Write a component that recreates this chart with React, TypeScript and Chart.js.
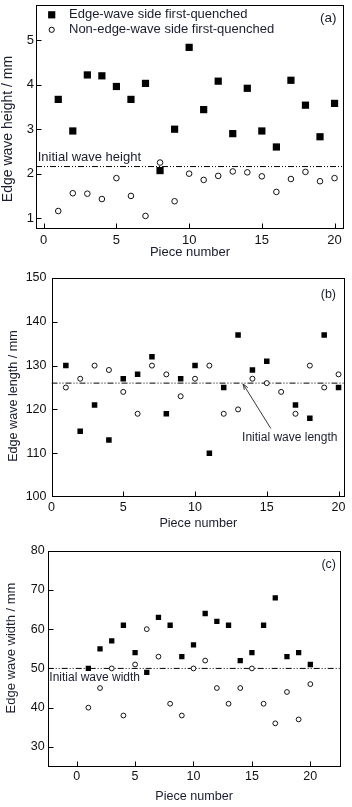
import React, { useEffect, useRef } from 'react';
import { Chart, registerables } from 'chart.js';

Chart.register(...registerables);

// ---------- data ----------
const pieceNumbers = [1, 2, 3, 4, 5, 6, 7, 8, 9, 10, 11, 12, 13, 14, 15, 16, 17, 18, 19, 20];
const pieceTicks = [0, 5, 10, 15, 20];

const heightEdgeFirst = [3.67, 2.96, 4.22, 4.2, 3.96, 3.67, 4.03, 2.07, 3.0, 4.84, 3.44, 4.08, 2.9, 3.92, 2.96, 2.6, 4.1, 3.54, 2.83, 3.58];
const heightNonEdgeFirst = [1.16, 1.56, 1.55, 1.43, 1.9, 1.5, 1.05, 2.25, 1.38, 2.0, 1.86, 1.95, 2.05, 2.03, 1.94, 1.59, 1.88, 2.04, 1.83, 1.9];
const initialHeight = 2.16;
const heightTicks = [1, 2, 3, 4, 5];

const lengthEdgeFirst: (number | null)[] = [130, 115, 121, 113, 127, 128, 132, 119, 127, 130, 110, 125, 137, 129, 131, null, 121, 118, 137, 125];
const lengthNonEdgeFirst = [125, 127, 130, 129, 124, 119, 130, 128, 123, 127, 130, 119, 120, 127, 126, 124, 119, 130, 125, 128];
const initialLength = 126;
const lengthTicks = [100, 110, 120, 130, 140, 150];

const widthEdgeFirst = [50, 55, 57, 61, 54, 49, 63, 61, 53, 56, 64, 62, 61, 52, 54, 61, 68, 53, 54, 51];
const widthNonEdgeFirst = [40, 45, 50, 38, 51, 60, 53, 41, 38, 50, 52, 45, 41, 45, 50, 41, 36, 44, 37, 46];
const initialWidth = 50;
const widthTicks = [30, 40, 50, 60, 70, 80];

const legendLabels = ['Edge-wave side first-quenched', 'Non-edge-wave side first-quenched'];
const xTitle = 'Piece number';

// ---------- styles ----------
const FONT = "'Liberation Sans', Arial, sans-serif";
const TEXT = '#1a1d30';
const TICK = '#111111';

type PanelCfg = {
  top: number;
  height: number;
  edge: (number | null)[];
  nonEdge: number[];
  initial: number;
  xMin: number;
  xMax: number;
  yMin: number;
  yMax: number;
  yTicks: number[];
  yTitle: string;
  panelLabel: string;
  initLabel: string;
  pad: { top: number; right: number };
  yAxisWidth: number;
  xAxisHeight: number;
  xTickPad: number;
  yTickPad: number;
  xTitlePadBottom: number;
  tickFont: number;
  xTitleFont: number;
  yTitleFont: number;
  yTitlePos: [number, number];
  textFont: number;
  squareR: number;
  circleR: number;
  labelOffset: [number, number];
  legend: boolean;
  initLabelMode: 'above' | 'below' | 'arrow';
};

const panels: PanelCfg[] = [
  {
    top: 0, height: 264,
    edge: heightEdgeFirst, nonEdge: heightNonEdgeFirst, initial: initialHeight,
    xMin: -0.53, xMax: 20.65, yMin: 0.756, yMax: 5.79, yTicks: heightTicks,
    yTitle: 'Edge wave height / mm', panelLabel: '(a)', initLabel: 'Initial wave height',
    pad: { top: 2, right: 8 }, yAxisWidth: 36, xAxisHeight: 35,
    xTickPad: 3.2, yTickPad: 2, xTitlePadBottom: 3.5,
    tickFont: 13, xTitleFont: 13, yTitleFont: 14, yTitlePos: [8.5, 129], textFont: 13,
    squareR: 5.1, circleR: 2.8, labelOffset: [7.5, 13], legend: true, initLabelMode: 'above',
  },
  {
    top: 264, height: 270,
    edge: lengthEdgeFirst, nonEdge: lengthNonEdgeFirst, initial: initialLength,
    xMin: 0, xMax: 20.45, yMin: 100, yMax: 150, yTicks: lengthTicks,
    yTitle: 'Edge wave length / mm', panelLabel: '(b)', initLabel: 'Initial wave length',
    pad: { top: 14, right: 7 }, yAxisWidth: 51.5, xAxisHeight: 37,
    xTickPad: 3.5, yTickPad: 5, xTitlePadBottom: 3.4,
    tickFont: 12.5, xTitleFont: 12.6, yTitleFont: 12.6, yTitlePos: [13.5, 132], textFont: 12,
    squareR: 3.9, circleR: 2.5, labelOffset: [9, 17], legend: false, initLabelMode: 'arrow',
  },
  {
    top: 534, height: 273,
    edge: widthEdgeFirst, nonEdge: widthNonEdgeFirst, initial: initialWidth,
    xMin: -2.48, xMax: 22.6, yMin: 24.8, yMax: 80, yTicks: widthTicks,
    yTitle: 'Edge wave width / mm', panelLabel: '(c)', initLabel: 'Initial wave width',
    pad: { top: 16.7, right: 11.3 }, yAxisWidth: 47.7, xAxisHeight: 39.7,
    xTickPad: 1.9, yTickPad: 3, xTitlePadBottom: 2.7,
    tickFont: 12.5, xTitleFont: 12.6, yTitleFont: 13, yTitlePos: [11.7, 114], textFont: 12,
    squareR: 3.75, circleR: 2.4, labelOffset: [4.7, 13.6], legend: false, initLabelMode: 'below',
  },
];

function buildChart(canvas: HTMLCanvasElement, p: PanelCfg) {
  const edgePts = pieceNumbers
    .map((x, i) => (p.edge[i] == null ? null : { x, y: p.edge[i] as number }))
    .filter((d) => d !== null) as { x: number; y: number }[];
  const nonEdgePts = pieceNumbers.map((x, i) => ({ x, y: p.nonEdge[i] }));

  const decor = {
    id: 'decor' + p.panelLabel,
    afterDraw(chart: any) {
      const ctx = chart.ctx as CanvasRenderingContext2D;
      const { left, right, top, bottom } = chart.chartArea;
      const xs = chart.scales.x;
      const ys = chart.scales.y;
      ctx.save();
      ctx.strokeStyle = '#000';
      ctx.lineWidth = 1;
      const L = Math.round(left) + 0.5;
      const R = Math.round(right) - 0.5;
      const T = Math.round(top) + 0.5;
      const B = Math.round(bottom) - 0.5;
      ctx.strokeRect(L, T, R - L, B - T);
      // inward ticks (kept within the frame)
      ctx.beginPath();
      pieceTicks.forEach((v) => {
        const px = Math.min(Math.max(Math.round(xs.getPixelForValue(v)) + 0.5, L), R);
        ctx.moveTo(px, B);
        ctx.lineTo(px, B - 5);
      });
      p.yTicks.forEach((v) => {
        const py = Math.min(Math.max(Math.round(ys.getPixelForValue(v)) + 0.5, T), B);
        ctx.moveTo(L, py);
        ctx.lineTo(L + 5, py);
      });
      ctx.stroke();

      // panel label
      ctx.fillStyle = TEXT;
      ctx.font = `${p.textFont + 0.5}px ${FONT}`;
      ctx.textAlign = 'right';
      ctx.textBaseline = 'middle';
      ctx.fillText(p.panelLabel, right - p.labelOffset[0], top + p.labelOffset[1]);

      // y title
      ctx.save();
      ctx.translate(p.yTitlePos[0], p.yTitlePos[1]);
      ctx.rotate(-Math.PI / 2);
      ctx.textAlign = 'center';
      ctx.textBaseline = 'middle';
      ctx.font = `${p.yTitleFont}px ${FONT}`;
      ctx.fillText(p.yTitle, 0, 0);
      ctx.restore();

      // legend
      if (p.legend) {
        ctx.font = `${p.textFont}px ${FONT}`;
        ctx.textAlign = 'left';
        ctx.textBaseline = 'middle';
        const mx = left + 15.7;
        const y1 = top + 9.7;
        const y2 = top + 24.7;
        ctx.fillStyle = '#000';
        ctx.fillRect(mx - 3.6, y1 - 3.6, 7.2, 7.2);
        ctx.beginPath();
        ctx.arc(mx, y2, 2.6, 0, Math.PI * 2);
        ctx.lineWidth = 1;
        ctx.stroke();
        ctx.fillStyle = TEXT;
        ctx.fillText(legendLabels[0], left + 33, y1);
        ctx.fillText(legendLabels[1], left + 33, y2);
      }

      // initial label
      ctx.fillStyle = TEXT;
      ctx.font = `${p.textFont}px ${FONT}`;
      ctx.textBaseline = 'middle';
      const iy = ys.getPixelForValue(p.initial);
      if (p.initLabelMode === 'above') {
        ctx.textAlign = 'left';
        ctx.fillText(p.initLabel, left + 1.7, iy - 9.3);
      } else if (p.initLabelMode === 'below') {
        ctx.textAlign = 'left';
        ctx.fillText(p.initLabel, left + 1.6, iy + 9);
      } else {
        ctx.textAlign = 'center';
        ctx.fillText(p.initLabel, xs.getPixelForValue(16.6), ys.getPixelForValue(113.5));
        const x0 = xs.getPixelForValue(15.28);
        const y0 = ys.getPixelForValue(115.65);
        const x1 = xs.getPixelForValue(13.35);
        const y1 = ys.getPixelForValue(125.8);
        ctx.strokeStyle = '#222';
        ctx.lineWidth = 0.9;
        ctx.beginPath();
        ctx.moveTo(x0, y0);
        ctx.lineTo(x1, y1);
        const ang = Math.atan2(y1 - y0, x1 - x0);
        const ah = 6;
        ctx.moveTo(x1, y1);
        ctx.lineTo(x1 - ah * Math.cos(ang - 0.35), y1 - ah * Math.sin(ang - 0.35));
        ctx.moveTo(x1, y1);
        ctx.lineTo(x1 - ah * Math.cos(ang + 0.35), y1 - ah * Math.sin(ang + 0.35));
        ctx.stroke();
      }
      ctx.restore();
    },
  };

  return new Chart(canvas, {
    type: 'scatter',
    data: {
      datasets: [
        {
          label: 'Initial',
          data: [
            { x: p.xMin, y: p.initial },
            { x: p.xMax, y: p.initial },
          ],
          showLine: true,
          borderColor: '#000',
          borderWidth: 1,
          borderDash: [6, 2, 1, 2, 1, 2],
          pointRadius: 0,
          fill: false,
          order: 3,
        } as any,
        {
          label: legendLabels[1],
          data: nonEdgePts,
          pointStyle: 'circle',
          pointRadius: p.circleR,
          pointBackgroundColor: '#ffffff',
          pointBorderColor: '#111',
          pointBorderWidth: 1,
          order: 2,
        } as any,
        {
          label: legendLabels[0],
          data: edgePts,
          pointStyle: 'rect',
          pointRadius: p.squareR,
          pointBackgroundColor: '#000',
          pointBorderWidth: 0,
          order: 1,
        } as any,
      ],
    },
    options: {
      responsive: false,
      animation: false,
      devicePixelRatio: 1,
      layout: { padding: { top: p.pad.top, right: p.pad.right, left: 0, bottom: 0 } },
      plugins: { legend: { display: false }, tooltip: { enabled: false } },
      events: [],
      scales: {
        x: {
          type: 'linear',
          min: p.xMin,
          max: p.xMax,
          grid: { display: false, drawTicks: false },
          border: { display: false },
          ticks: {
            autoSkip: false,
            maxRotation: 0,
            padding: p.xTickPad,
            color: TICK,
            font: { family: FONT, size: p.tickFont },
          },
          afterBuildTicks: (s: any) => {
            s.ticks = pieceTicks.map((v) => ({ value: v }));
          },
          afterFit: (s: any) => {
            s.height = p.xAxisHeight;
            s.paddingLeft = 0;
            s.paddingRight = 0;
          },
          title: {
            display: true,
            text: xTitle,
            color: TEXT,
            font: { family: FONT, size: p.xTitleFont },
            padding: { top: 0, bottom: p.xTitlePadBottom },
          },
        },
        y: {
          type: 'linear',
          min: p.yMin,
          max: p.yMax,
          grid: { display: false, drawTicks: false },
          border: { display: false },
          ticks: {
            autoSkip: false,
            padding: p.yTickPad,
            color: TICK,
            font: { family: FONT, size: p.tickFont },
          },
          afterBuildTicks: (s: any) => {
            s.ticks = p.yTicks.map((v) => ({ value: v }));
          },
          afterFit: (s: any) => {
            s.width = p.yAxisWidth;
            s.paddingTop = 0;
            s.paddingBottom = 0;
          },
        },
      },
    } as any,
    plugins: [decor],
  });
}

function Panel({ cfg }: { cfg: PanelCfg }) {
  const ref = useRef<HTMLCanvasElement | null>(null);
  useEffect(() => {
    if (!ref.current) return;
    const chart = buildChart(ref.current, cfg);
    return () => chart.destroy();
  }, [cfg]);
  return (
    <canvas
      ref={ref}
      width={352}
      height={cfg.height}
      style={{ position: 'absolute', left: 0, top: cfg.top, width: 352, height: cfg.height, display: 'block' }}
    />
  );
}

export default function App() {
  return (
    <div style={{ position: 'absolute', left: 0, top: 0, width: 352, height: 807, background: '#ffffff', overflow: 'hidden' }}>
      {panels.map((p) => (
        <Panel key={p.panelLabel} cfg={p} />
      ))}
    </div>
  );
}
